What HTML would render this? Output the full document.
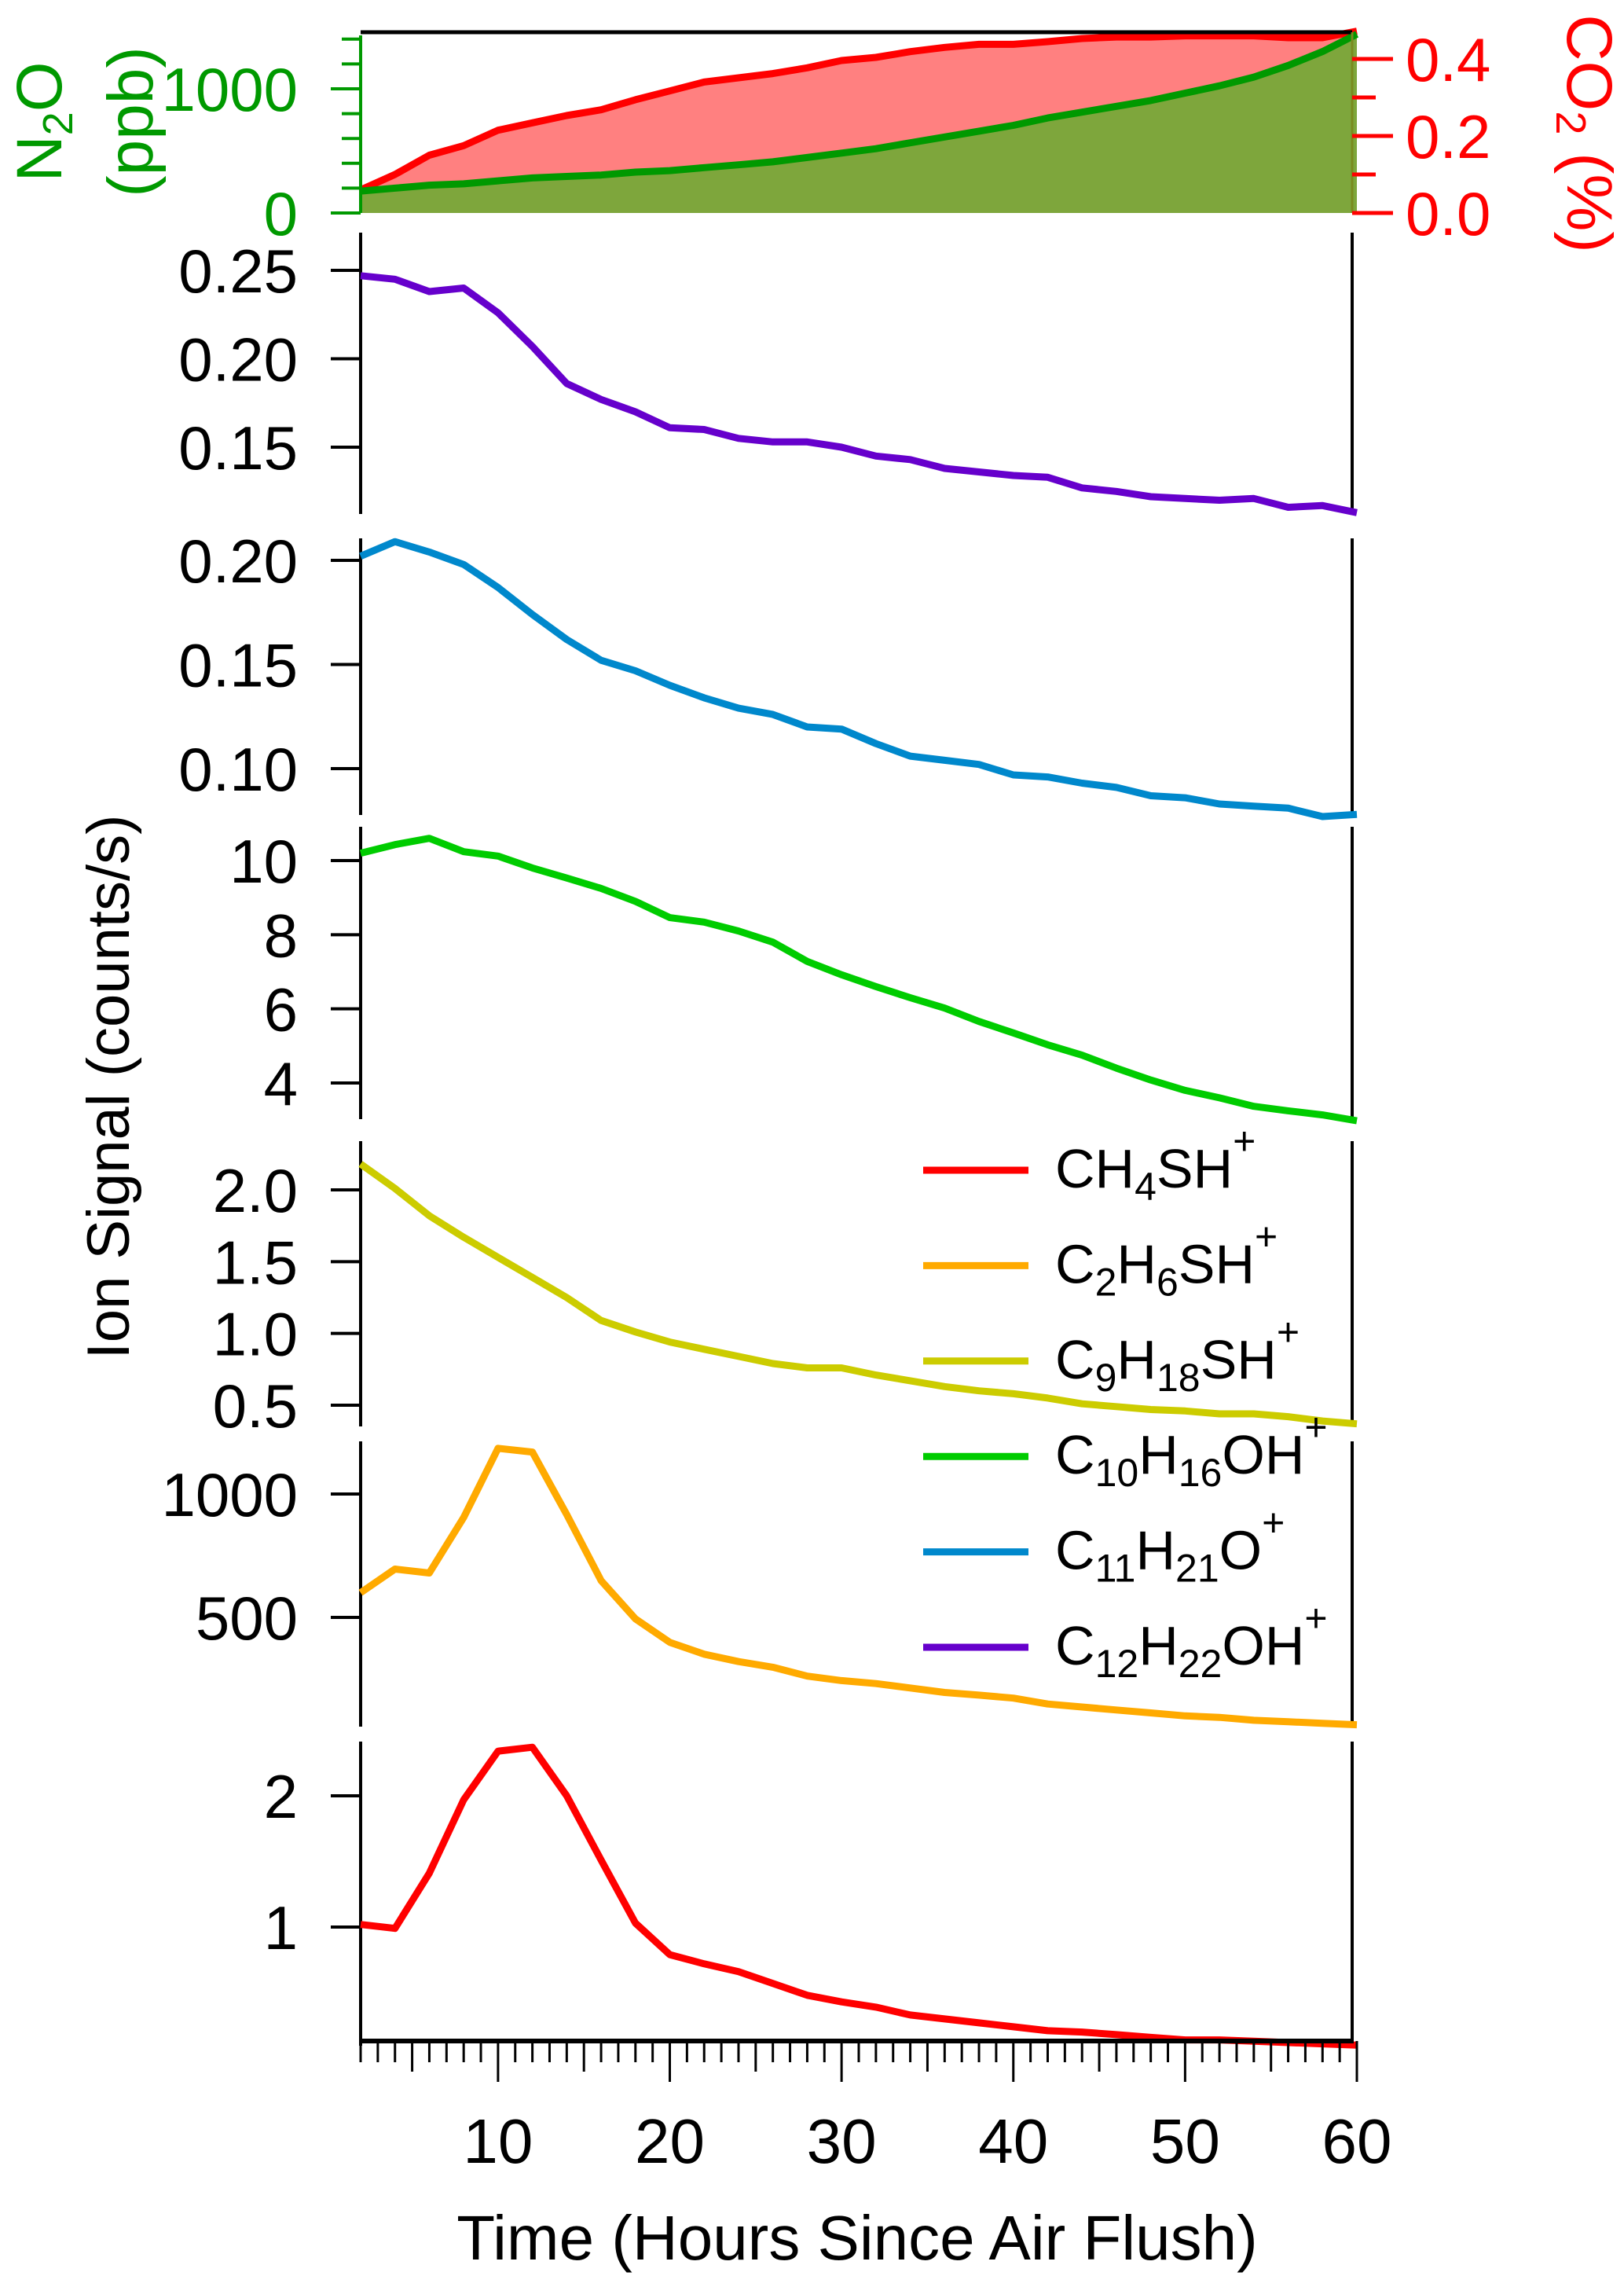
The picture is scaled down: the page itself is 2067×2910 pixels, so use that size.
<!DOCTYPE html>
<html><head><meta charset="utf-8"><style>
html,body{margin:0;padding:0;background:#fff}
svg{display:block}
text{font-family:"Liberation Sans",Arial,sans-serif}
</style></head><body>
<svg id="chart" width="2067" height="2910" viewBox="0 0 2067 2910" xmlns="http://www.w3.org/2000/svg">
<text x="0" y="0" font-size="76" text-anchor="middle" transform="translate(164,1383) rotate(-90)">Ion Signal (counts/s)</text>
<text x="1091" y="2875" font-size="80" text-anchor="middle">Time (Hours Since Air Flush)</text>
<text fill="#009900" font-size="82" text-anchor="middle" transform="translate(78,155) rotate(-90)">N<tspan font-size="54" dy="14">2</tspan><tspan dy="-14">O</tspan></text>
<text fill="#009900" font-size="82" text-anchor="middle" transform="translate(194,155) rotate(-90)">(ppb)</text>
<text fill="#ff0000" font-size="82" text-anchor="middle" transform="translate(1995,170) rotate(90)">CO<tspan font-size="54" dy="14">2</tspan><tspan dy="-14"> (%)</tspan></text>
<g id="marks"></g>
</svg>
<script>
var times=[2,4,6,8,10,12,14,16,18,20,22,24,26,28,30,32,34,36,38,40,42,44,46,48,50,52,54,56,58,60];
var n2o=[176,200,224,235,259,282,294,306,329,341,365,388,412,447,482,518,565,612,659,706,765,812,859,906,965,1024,1094,1188,1300,1440];
var co2=[0.06,0.1,0.15,0.175,0.215,0.234,0.253,0.268,0.294,0.317,0.34,0.351,0.362,0.377,0.396,0.404,0.419,0.43,0.438,0.438,0.445,0.453,0.457,0.457,0.46,0.46,0.46,0.455,0.455,0.472];
var purple=[0.247,0.245,0.238,0.240,0.226,0.207,0.186,0.177,0.170,0.161,0.160,0.155,0.153,0.153,0.150,0.145,0.143,0.138,0.136,0.134,0.133,0.127,0.125,0.122,0.121,0.120,0.121,0.116,0.117,0.113];
var blue=[0.202,0.209,0.204,0.198,0.187,0.174,0.162,0.152,0.147,0.140,0.134,0.129,0.126,0.120,0.119,0.112,0.106,0.104,0.102,0.097,0.096,0.093,0.091,0.087,0.086,0.083,0.082,0.081,0.077,0.078];
var green=[10.2,10.43,10.6,10.24,10.12,9.8,9.53,9.25,8.9,8.46,8.34,8.1,7.8,7.28,6.92,6.6,6.3,6.02,5.66,5.35,5.03,4.75,4.4,4.08,3.8,3.6,3.37,3.25,3.14,2.98];
var yellow=[2.18,2.01,1.82,1.67,1.53,1.39,1.25,1.09,1.01,0.94,0.89,0.84,0.79,0.76,0.76,0.71,0.67,0.63,0.6,0.58,0.55,0.51,0.49,0.47,0.46,0.44,0.44,0.42,0.39,0.37];
var orange=[600,696,680,905,1185,1170,917,649,494,399,351,321,298,262,244,232,214,196,185,173,149,137,125,113,101,95,83,77,71,65];
var red=[1.02,0.99,1.41,1.97,2.34,2.37,2.0,1.51,1.03,0.79,0.72,0.66,0.57,0.48,0.43,0.39,0.33,0.30,0.27,0.24,0.21,0.20,0.18,0.16,0.14,0.14,0.13,0.12,0.11,0.10];
var xTicks=[10,20,30,40,50,60];
var legendLabels=[["CH","4","SH"],["C","2","H","6","SH"],["C","9","H","18","SH"],["C","10","H","16","OH"],["C","11","H","21","O"],["C","12","H","22","OH"]];

var NS="http://www.w3.org/2000/svg";
var g=document.getElementById('marks');
var XL=459,XR=1721;
function xs(t){return XL+(t-2)*(1727-459)/58;}
function lin(v0,p0,v1,p1){return function(v){return p0+(v-v0)*(p1-p0)/(v1-v0);};}
function el(tag,attrs,parent){var e=document.createElementNS(NS,tag);for(var k in attrs)e.setAttribute(k,attrs[k]);(parent||g).appendChild(e);return e;}
function pathD(vals,ys){var d='';for(var i=0;i<times.length;i++){d+=(i?'L':'M')+xs(times[i]).toFixed(1)+','+ys(vals[i]).toFixed(1);}return d;}

var panels=[
 {name:'purple',vals:purple,color:'#6600cc',top:296,bot:654,ys:lin(0.25,344,0.15,569),ticks:[0.25,0.20,0.15],fmt:2},
 {name:'blue',vals:blue,color:'#0088cc',top:685,bot:1037,ys:lin(0.20,713,0.10,978),ticks:[0.20,0.15,0.10],fmt:2},
 {name:'green',vals:green,color:'#00cc00',top:1052,bot:1424,ys:lin(10,1095,4,1378),ticks:[10,8,6,4],fmt:0},
 {name:'yellow',vals:yellow,color:'#cccc00',top:1452,bot:1815,ys:lin(2.0,1514,0.5,1788),ticks:[2.0,1.5,1.0,0.5],fmt:1},
 {name:'orange',vals:orange,color:'#ffaa00',top:1834,bot:2197,ys:lin(1000,1901,500,2058),ticks:[1000,500],fmt:0},
 {name:'red',vals:red,color:'#ff0000',top:2216,bot:2603,ys:lin(2,2285,1,2452),ticks:[2,1],fmt:0}
];
panels.forEach(function(p){
  var gp=el('g',{});
  
  
  var la=el('line',{x1:XL,y1:p.top,x2:XL,y2:p.bot,stroke:'#000','stroke-width':4},gp);
  
  
  var ra=el('line',{x1:XR,y1:p.top,x2:XR,y2:p.bot,stroke:'#000','stroke-width':4},gp);
  
  
  p.ticks.forEach(function(t){
    var y=p.ys(t);
    var tk=el('line',{x1:XL-38,y1:y,x2:XL,y2:y,stroke:'#000','stroke-width':4},gp);
    
    
    var tx=el('text',{x:XL-80,y:y+28,'font-size':78,'text-anchor':'end'},gp);
    
    
    tx.textContent=t.toFixed(p.fmt);
  });
  var ln=el('path',{d:pathD(p.vals,p.ys),fill:'none',stroke:p.color,'stroke-width':9,'stroke-linejoin':'round'},gp);
  
  
});

// top panel
var yN=lin(0,271,1000,113), yC=lin(0,271,0.4,75);
var gt=el('g',{});


function areaD(vals,ys){return pathD(vals,ys)+'L'+xs(60)+',271L'+xs(2)+',271Z';}
var ca=el('path',{d:areaD(co2,yC),fill:'#ff8080'},gt);


var na=el('path',{d:areaD(n2o,yN),fill:'#7ea63c'},gt);


var cl=el('path',{d:pathD(co2,yC),fill:'none',stroke:'#ff0000','stroke-width':9,'stroke-linejoin':'round'},gt);


var nl=el('path',{d:pathD(n2o,yN),fill:'none',stroke:'#009900','stroke-width':9,'stroke-linejoin':'round'},gt);


var tb=el('line',{x1:XL,y1:41,x2:XR,y2:41,stroke:'#000','stroke-width':5},gt);


var nax=el('line',{x1:XL,y1:45,x2:XL,y2:271,stroke:'#009900','stroke-width':4},gt);


for(var v=0;v<=1400;v+=200){
  var major=(v%1000===0);
  var t1=el('line',{x1:XL-(major?38:24),y1:yN(v),x2:XL,y2:yN(v),stroke:'#009900','stroke-width':4},gt);
  
  
  if(major){
    var l1=el('text',{x:XL-80,y:yN(v)+28,'font-size':78,'text-anchor':'end',fill:'#009900'},gt);
    
    
    l1.textContent=String(v);
  }
}
var cax=el('line',{x1:XR,y1:41,x2:XR,y2:271,stroke:'#7a8a20','stroke-width':3},gt);


[0,0.1,0.2,0.3,0.4].forEach(function(v,i){
  var major=(i%2===0);
  var t2=el('line',{x1:XR,y1:yC(v),x2:XR+(major?52:30),y2:yC(v),stroke:'#ff0000','stroke-width':5},gt);
  
  
  if(major){
    var l2=el('text',{x:XR+68,y:yC(v)+28,'font-size':78,fill:'#ff0000'},gt);
    
    
    l2.textContent=v.toFixed(1);
  }
});

// x axis
var xa=el('line',{x1:XL-2,y1:2597,x2:XR+2,y2:2597,stroke:'#000','stroke-width':6});


for(var h=2;h<=60;h++){
  var len=(h%10===0)?52:((h%5===0)?39:27);
  var xt=el('line',{x1:xs(h),y1:2597,x2:xs(h),y2:2597+len,stroke:'#000','stroke-width':3});
  
  
}
xTicks.forEach(function(t){
  var tl=el('text',{x:xs(t),y:2752,'font-size':80,'text-anchor':'middle'});
  
  
  tl.textContent=String(t);
});

// legend
var legColors=['#ff0000','#ffaa00','#cccc00','#00cc00','#0088cc','#6600cc'];
legendLabels.forEach(function(parts,i){
  var y=1489+i*121.4;
  var lg=el('g',{});
  
  
  var ll=el('line',{x1:1175,y1:y,x2:1309,y2:y,stroke:legColors[i],'stroke-width':9},lg);
  
  
  var tx=el('text',{x:1343,y:y+22,'font-size':70},lg);
  
  
  parts.forEach(function(s,j){
    var sp=document.createElementNS(NS,'tspan');
    if(j%2===1){sp.setAttribute('font-size','50');sp.setAttribute('dy','16');}
    else if(j>0){sp.setAttribute('dy','-16');}
    sp.textContent=s;tx.appendChild(sp);
  });
  var sup=document.createElementNS(NS,'tspan');
  sup.setAttribute('font-size','50');sup.setAttribute('dy','-42');
  sup.textContent='+';tx.appendChild(sup);
});
</script>
</body></html>
